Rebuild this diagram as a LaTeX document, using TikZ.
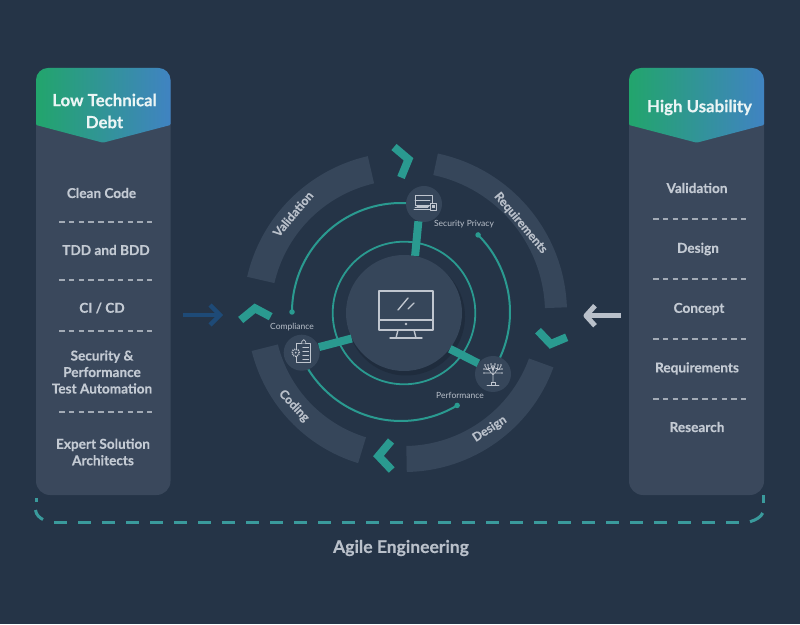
\documentclass[tikz,border=0pt]{standalone}
\usepackage{fontspec}
\setmainfont{Lato}[BoldFeatures={FakeBold=0.35}]
\usetikzlibrary{arrows.meta,calc}
\definecolor{bg}{HTML}{253447}
\definecolor{panel}{HTML}{3A485C}
\definecolor{seg}{HTML}{36465A}
\definecolor{tealc}{HTML}{2A9A90}
\definecolor{tealb}{HTML}{3A9A9C}
\definecolor{txt}{HTML}{C3CAD3}
\definecolor{lab}{HTML}{B9C0CA}
\definecolor{gr1}{HTML}{22A56C}
\definecolor{gr2}{HTML}{4083C2}
\definecolor{shadow}{HTML}{1F2C3D}
\definecolor{icon}{HTML}{C0C6CF}
\definecolor{arrowblue}{HTML}{1E4A77}
\tikzset{
  panelbox/.style={fill=panel,rounded corners=14pt},
  headshade/.style={left color=gr1,right color=gr2},
  headtext/.style={text=white!92!teal,font=\fontsize{16.8}{22}\selectfont\bfseries,align=center},
  itemtext/.style={text=txt,font=\fontsize{13.6}{16.5}\selectfont\bfseries,align=center,inner sep=0pt},
  sep/.style={draw=lab!85!bg,line width=2.4pt,dash pattern=on 5.5pt off 4.3pt},
  chev/.style={draw=tealc,line width=8pt,miter limit=10},
  spoke/.style={draw=tealc,line width=8pt},
  ring/.style={draw=tealc,line width=2pt},
  seglabel/.style={text=lab,font=\fontsize{12.2}{14}\selectfont\bfseries,inner sep=0pt},
  tiny/.style={text=lab,font=\fontsize{8.5}{10}\selectfont,inner sep=0pt},
  ic/.style={draw=icon,line width=1.4pt,line cap=round,line join=round},
  ict/.style={draw=icon,line width=0.7pt,line cap=round,line join=round},
  ringdot/.style={circle,fill=tealc,inner sep=0pt,minimum size=5.5pt},
  smalldisc/.style={circle,fill=seg,inner sep=0pt,minimum size=36pt},
  bracket/.style={draw=tealb,line width=3pt,line cap=butt},
}
\newcommand{\annseg}[4]{% start, end, rin, rout around (404,311)
  \fill[seg] ($(404,311)+(#1:#4)$) arc[start angle=#1,end angle=#2,radius=#4]
   -- ($(404,311)+(#2:#3)$) arc[start angle=#2,end angle=#1,radius=#3] -- cycle;}
\begin{document}
\begin{tikzpicture}[x=1pt,y=1pt,every node/.style={inner sep=0pt}]
\useasboundingbox (0,0) rectangle (800,624);
\fill[bg] (0,0) rectangle (800,624);
% panels
\fill[panelbox] (36,129) rectangle (170.5,556);
\fill[panelbox] (629,129) rectangle (764,556);
% headers
\shade[headshade] (36,499) [rounded corners=12pt]-- (36,556) -- (170.5,556) [rounded corners=1pt]-- (170.5,499) -- (103,481.3) -- cycle;
\shade[headshade] (629,499) [rounded corners=12pt]-- (629,556) -- (764,556) [rounded corners=1pt]-- (764,499) -- (696.7,481.3) -- cycle;
\node[headtext] (hl) at (104.5,513) {Low Technical\\Debt};
\node[headtext] (hr) at (699.5,516.5) {High Usability};
% left items
\node[itemtext] (l1) at (101.5,431) {Clean Code};
\node[itemtext] (l2) at (106,374) {TDD and BDD};
\node[itemtext] (l3) at (102,316) {CI / CD};
\node[itemtext] (l4) at (102,252) {Security \&\\Performance\\Test Automation};
\node[itemtext] (l5) at (103,172) {Expert Solution\\Architects};
\foreach \y in {402,344,293,212} \draw[sep] (59,\y) -- (152,\y);
% right items
\node[itemtext] (r1) at (697,436) {Validation};
\node[itemtext] (r2) at (698,375) {Design};
\node[itemtext] (r3) at (699,315) {Concept};
\node[itemtext] (r4) at (697,255.5) {Requirements};
\node[itemtext] (r5) at (697,197) {Research};
\foreach \y in {405,345,285,225} \draw[sep] (653,\y) -- (746,\y);
% ring segments
\annseg{2}{78}{141}{163}
\annseg{-20}{-89}{133}{159}
\annseg{194}{253}{130}{157}
\annseg{103}{167}{133}{161}
\node[seglabel,rotate=-50] (sReq) at (520.7,401) {Requirements};
\node[seglabel,rotate=33] (sDes) at (489.7,195) {Design};
\node[seglabel,rotate=-47] (sCod) at (294,218) {Coding};
\node[seglabel,rotate=50] (sVal) at (293,410) {Validation};
% chevrons
\draw[chev] (394,477) -- (408.5,464.7) -- (401,446.5);
\draw[chev] (240.7,304) -- (255,315.7) -- (270.7,307.3);
\draw[chev] (538,293.3) -- (550.7,280) -- (566.7,286.7);
\draw[chev] (391,183) -- (378.5,168) -- (391.7,154);
% hub
\fill[shadow] (406,307.5) circle (59);
\node[circle,fill=seg,minimum size=116pt] (hub) at (404,311) {};
\node[circle,draw=tealc,line width=1.8pt,minimum size=142.6pt] (innerring) at (404,311) {};
% outer partial rings
\coordinate (ac) at (401,312);
\node[ringdot] (e1) at ($(ac)+(180:109)$) {};
\node[ringdot] (e2) at ($(ac)+(301:109)$) {};
\node[ringdot] (e3) at ($(ac)+(45:109)$) {};
\draw[ring] (e1.center) arc[start angle=180,end angle=79,radius=109];
\draw[ring] (e2.center) arc[start angle=301,end angle=203,radius=109];
\draw[ring] (e3.center) arc[start angle=45,end angle=-34,radius=109];
\node[smalldisc] (d1) at (424,420) {};
\node[smalldisc] (d2) at (301.7,271.3) {};
\node[smalldisc] (d3) at (493,250) {};
% spokes
\draw[spoke] (hub.79) -- (d1.252);
\draw[spoke] (hub.206.6) -- (d2.18);
\draw[spoke] (hub.-38) -- (d3.144);
% small labels
\node[tiny] (t1) at (464,399.5) {Security Privacy};
\node[tiny] (t2) at (292,297) {Compliance};
\node[tiny] (t3) at (460,228.5) {Performance};
% monitor icon
\draw[ic] (379,333) rectangle (433,294);
\draw[ic] (379,304) -- (433,304);
\fill[icon] (406,300) circle (1.3);
\draw[ic] (398,314) -- (408,326);
\draw[ic] (408,315) -- (414,321);
\draw[ic] (398,294) -- (396,286) (414,294) -- (416,286);
\draw[ic] (390,286) -- (422,286);
% top small icon (laptop)
\begin{scope}[shift={(424,420)}]
 \draw[ict,line width=.8pt] (-9,9) rectangle (8,-1);
 \draw[ict] (-9,4) -- (6,4) (-7,-2) -- (5,-2);
 \draw[ict,line width=.8pt] (-10,-5) -- (10,-5) (-9,-3) -- (4,-3);
 \draw[ict,fill=seg,line width=.8pt] (6,1) rectangle (12,-6);
 \fill[icon] (8,-1) rectangle (10.5,-4);
\end{scope}
% left small icon (clipboard with gear)
\begin{scope}[shift={(301.7,271.3)}]
 \draw[ict,line width=.8pt] (-5,9) rectangle (9,-10);
 \draw[ict,fill=seg] (0,9) -- (0,11) -- (2,13) -- (4,11) -- (4,9);
 \foreach \y in {5,1,-3,-7} \draw[ict] (1,\y) -- (7,\y);
 \draw[icon,line width=1.6pt,dash pattern=on 1pt off 1pt,fill=seg] (-6,0) circle (3.6);
 \fill[icon] (-6,0) circle (1);
\end{scope}
% right small icon (tree)
\begin{scope}[shift={(493,250)}]
 \draw[ict] (0,-8) -- (0,-1) (0,-1) -- (-4,4) -- (-8,5) (-4,4) -- (-5,8) (0,-1) -- (4,4) -- (8,5) (4,4) -- (5,8) (0,0) -- (0,7) (0,3) -- (-2,9) (0,3) -- (2,9) (-2,1) -- (-8,1) (2,1) -- (8,1) (-6,5) -- (-8,8) (6,5) -- (8,8) (-2,6) -- (-5,5) (2,6) -- (5,5);
 \foreach \p in {(-8,9),(-5,9),(-2,10),(2,10),(5,9),(8,9),(-9,5),(9,5),(-9,1),(9,1),(0,8)} \fill[icon] \p circle (.8);
 \draw[ict,line width=.9pt] (-6,-11) -- (6,-11) (-2,-11) -- (-2,-8) -- (2,-8) -- (2,-11);
\end{scope}
% arrows
\coordinate (al1) at (183,309);
\coordinate (al2) at (220,309);
\draw[draw=arrowblue,line width=4.5pt] (al1) -- (al2);
\draw[draw=arrowblue,line width=4.5pt,miter limit=10] ($(al2)+(-10,10)$) -- (al2) -- ($(al2)+(-10,-10)$);
\coordinate (ar1) at (621,308.3);
\coordinate (ar2) at (586,308.3);
\draw[draw=lab,line width=5pt] (ar1) -- (ar2);
\draw[draw=lab,line width=5pt,miter limit=10,line join=round] ($(ar2)+(9,10)$) -- (ar2) -- ($(ar2)+(9,-10)$);
% bottom dashed bracket
\draw[bracket] (36,126) -- (36,122);
\draw[bracket] (35.5,114) .. controls (36,109) and (40,106) .. (43,104.5);
\draw[bracket,dash pattern=on 13.3pt off 10.7pt] (54,101.2) -- (739.3,101.2);
\draw[bracket] (750,102.3) .. controls (756,104) and (761,107) .. (762.7,111);
\draw[bracket] (763.3,129) -- (763.3,121);
\node[text=lab,font=\fontsize{17.5}{20}\selectfont\bfseries] (title) at (401,76) {Agile Engineering};
\end{tikzpicture}
\end{document}
